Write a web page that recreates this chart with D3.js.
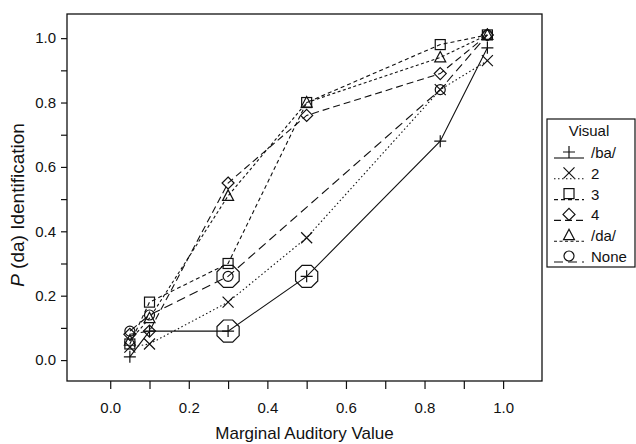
<!DOCTYPE html>
<head>
    <script src="https://d3js.org/d3.v7.min.js" charset="utf-8"></script>
    <style>
        body { margin: 0; background: #fff; }
        text { font-family: "Liberation Sans", Arial, sans-serif; fill: #111; }
    </style>
</head>
<body>
    <div id="container"></div>

    <script>
    // auditory levels (x) and P(da) per visual condition
    var auditory = [0.05, 0.1, 0.3, 0.5, 0.84, 0.96];
    var ba    = [0.01, 0.09, 0.09, 0.26, 0.68, 0.97];
    var two   = [0.04, 0.05, 0.18, 0.38, 0.84, 0.93];
    var three = [0.05, 0.18, 0.30, 0.80, 0.98, 1.01];
    var four  = [0.08, 0.09, 0.55, 0.76, 0.89, 1.01];
    var da    = [0.06, 0.13, 0.51, 0.80, 0.94, 1.01];
    var none  = [0.09, 0.14, 0.26, null, 0.84, 1.01];
    var seriesNames = ["/ba/", "2", "3", "4", "/da/", "None"];
    // points ringed by a large octagon
    var ringedX = [0.3, 0.5, 0.3];
    var ringedY = [0.09, 0.26, 0.26];
    var xTicks = [0, 0.1, 0.2, 0.3, 0.4, 0.5, 0.6, 0.7, 0.8, 0.9, 1.0];
    var yTicks = [0, 0.1, 0.2, 0.3, 0.4, 0.5, 0.6, 0.7, 0.8, 0.9, 1.0];

    var W = 636, H = 444;
    var plotL = 67, plotR = 542, plotT = 14, plotB = 381;

    var x = d3.scaleLinear().domain([-0.11, 1.099]).range([plotL, plotR]);
    var y = d3.scaleLinear().domain([-0.065, 1.075]).range([plotB, plotT]);

    var svg = d3.select("#container")
        .append("svg")
        .attr("width", W)
        .attr("height", H);

    // frame
    svg.append("rect")
        .attr("x", plotL).attr("y", plotT)
        .attr("width", plotR - plotL).attr("height", plotB - plotT)
        .attr("fill", "none").attr("stroke", "#111").attr("stroke-width", 1.3);

    function evenLabel(d) {
        return Math.round(d * 10) % 2 === 0 ? d3.format(".1f")(d) : "";
    }

    var xAxis = svg.append("g")
        .attr("transform", "translate(0," + plotB + ")")
        .call(d3.axisBottom(x).tickValues(xTicks).tickSize(8).tickPadding(13).tickFormat(evenLabel));
    var yAxis = svg.append("g")
        .attr("transform", "translate(" + plotL + ",0)")
        .call(d3.axisLeft(y).tickValues(yTicks).tickSize(6).tickPadding(5).tickFormat(evenLabel));
    [xAxis, yAxis].forEach(function (g) {
        g.select(".domain").remove();
        g.selectAll("line").attr("stroke", "#111").attr("stroke-width", 1.2);
        g.selectAll("text").style("font-size", "15px")
            .style("font-family", "'Liberation Sans', Arial, sans-serif").attr("fill", "#111");
    });

    svg.append("text")
        .attr("x", (plotL + plotR) / 2)
        .attr("y", 439)
        .attr("text-anchor", "middle")
        .style("font-size", "17px")
        .text("Marginal Auditory Value");

    var yl = svg.append("text")
        .attr("transform", "translate(24,205) rotate(-90)")
        .attr("text-anchor", "middle")
        .style("font-size", "19px");
    yl.append("tspan").style("font-style", "italic").text("P");
    yl.append("tspan").text(" (da) Identification");

    var values = [ba, two, three, four, da, none];
    var dashes = [null, "1.5,2.5", "4,3", "7,4", "3,2.5", "9,5"];

    function symbol(g, i, cx, cy) {
        var s = g.append("g").attr("transform", "translate(" + cx + "," + cy + ")")
            .attr("fill", "none").attr("stroke", "#111").attr("stroke-width", 1.2);
        if (i === 0) {
            s.append("path").attr("d", "M-6,0H6M0,-6V6");
        } else if (i === 1) {
            s.append("path").attr("d", "M-5.5,-5.5L5.5,5.5M-5.5,5.5L5.5,-5.5");
        } else if (i === 2) {
            s.append("rect").attr("x", -5).attr("y", -5).attr("width", 10).attr("height", 10);
        } else if (i === 3) {
            s.append("path").attr("d", "M0,-6L6,0L0,6L-6,0Z");
        } else if (i === 4) {
            s.append("path").attr("d", "M0,-6L5.5,4.5L-5.5,4.5Z");
        } else {
            s.append("circle").attr("r", 5);
        }
    }

    var line = d3.line()
        .x(function (d) { return x(d[0]); })
        .y(function (d) { return y(d[1]); });

    values.forEach(function (vals, i) {
        var pts = auditory.map(function (a, j) { return [a, vals[j]]; })
            .filter(function (p) { return p[1] !== null; });
        svg.append("path")
            .datum(pts)
            .attr("d", line)
            .attr("fill", "none")
            .attr("stroke", "#111")
            .attr("stroke-width", 1.1)
            .attr("stroke-dasharray", dashes[i]);
        pts.forEach(function (p) { symbol(svg, i, x(p[0]), y(p[1])); });
    });

    // large octagons
    var octagon = d3.range(8).map(function (k) {
        var a = Math.PI / 8 + k * Math.PI / 4;
        return [12 * Math.cos(a), 12 * Math.sin(a)];
    });
    ringedX.forEach(function (rx, k) {
        svg.append("path")
            .attr("d", "M" + octagon.join("L") + "Z")
            .attr("transform", "translate(" + x(rx) + "," + y(ringedY[k]) + ")")
            .attr("fill", "none").attr("stroke", "#111").attr("stroke-width", 1.2);
    });

    // legend
    var lg = svg.append("g");
    lg.append("rect")
        .attr("x", 547).attr("y", 119).attr("width", 88).attr("height", 148)
        .attr("fill", "#fff").attr("stroke", "#111").attr("stroke-width", 1.2);
    lg.append("text")
        .attr("x", 589).attr("y", 136)
        .attr("text-anchor", "middle")
        .style("font-size", "15px")
        .text("Visual");
    seriesNames.forEach(function (name, i) {
        var ry = 152 + i * 20.8;
        lg.append("line")
            .attr("x1", 554).attr("x2", 584)
            .attr("y1", ry + 6).attr("y2", ry + 6)
            .attr("stroke", "#111").attr("stroke-width", 1.1)
            .attr("stroke-dasharray", dashes[i]);
        symbol(lg, i, 569, ry);
        lg.append("text")
            .attr("x", 591).attr("y", ry + 6)
            .style("font-size", "15px")
            .text(name);
    });
    </script>
</body>
